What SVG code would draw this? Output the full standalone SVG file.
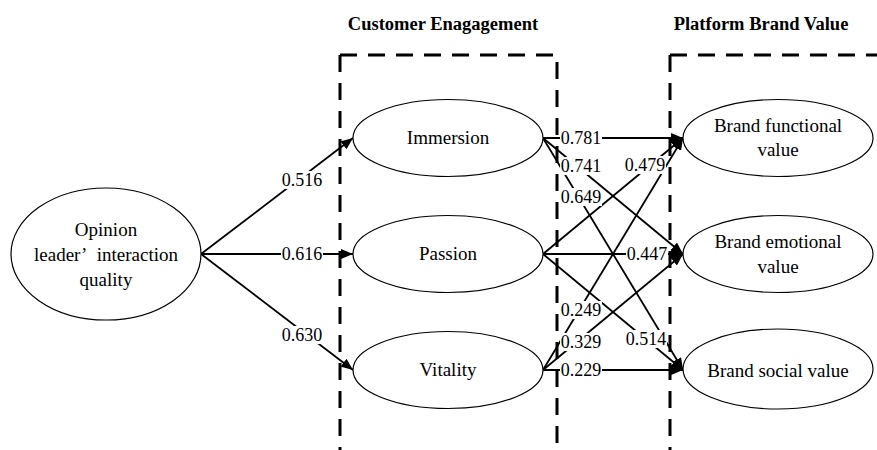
<svg xmlns="http://www.w3.org/2000/svg" width="877" height="450" viewBox="0 0 877 450">
<style>
  .bg{fill:#fff}
  .node ellipse{fill:#fff;stroke:#000;stroke-width:1.2}
  .node text{font-family:"Liberation Serif","Times New Roman",serif;font-size:19px;fill:#000;text-anchor:middle}
  .hdr{font-family:"Liberation Serif","Times New Roman",serif;font-size:18.5px;font-weight:bold;fill:#000;text-anchor:middle}
  .box{fill:none;stroke:#000;stroke-width:3;stroke-dasharray:17 11}
  .edge{stroke:#000;stroke-width:1.8;fill:none;marker-end:url(#arr)}
  .lblbg{fill:#fff}
  .lbl{font-family:"Liberation Serif","Times New Roman",serif;font-size:18px;fill:#000;text-anchor:middle}
</style>
<defs>
  <marker id="arr" markerUnits="userSpaceOnUse" markerWidth="12" markerHeight="10" refX="12" refY="5" orient="auto">
    <path d="M0,0 L12,5 L0,10 z" fill="#000"/>
  </marker>
</defs>
<rect class="bg" x="0" y="0" width="877" height="450"/>

<text class="hdr" x="443" y="30">Customer Enagagement</text>
<text class="hdr" x="761" y="30">Platform Brand Value</text>

<g id="connectors">
  <line class="edge" x1="201" y1="254" x2="353" y2="138"/>
  <line class="edge" x1="201" y1="254" x2="353" y2="254"/>
  <line class="edge" x1="201" y1="254" x2="353" y2="370"/>
  <line class="edge" x1="543" y1="138" x2="683" y2="138"/>
  <line class="edge" x1="543" y1="138" x2="683" y2="254"/>
  <line class="edge" x1="543" y1="138" x2="683" y2="370"/>
  <line class="edge" x1="543" y1="254" x2="683" y2="138"/>
  <line class="edge" x1="543" y1="254" x2="683" y2="254"/>
  <line class="edge" x1="543" y1="254" x2="683" y2="370"/>
  <line class="edge" x1="543" y1="370" x2="683" y2="138"/>
  <line class="edge" x1="543" y1="370" x2="683" y2="254"/>
  <line class="edge" x1="543" y1="370" x2="683" y2="370"/>
  <g id="edge-labels">
    <rect class="lblbg" x="281" y="171" width="42" height="18"/><text class="lbl" x="302" y="186">0.516</text>
    <rect class="lblbg" x="281" y="245" width="42" height="18"/><text class="lbl" x="302" y="260">0.616</text>
    <rect class="lblbg" x="281" y="326" width="42" height="18"/><text class="lbl" x="302" y="341">0.630</text>
    <rect class="lblbg" x="560" y="129" width="42" height="18"/><text class="lbl" x="581" y="144">0.781</text>
    <rect class="lblbg" x="560" y="157" width="42" height="18"/><text class="lbl" x="581" y="172">0.741</text>
    <rect class="lblbg" x="560" y="188" width="42" height="18"/><text class="lbl" x="581" y="203">0.649</text>
    <rect class="lblbg" x="624" y="156" width="42" height="18"/><text class="lbl" x="645" y="171">0.479</text>
    <rect class="lblbg" x="626" y="245" width="42" height="18"/><text class="lbl" x="647" y="260">0.447</text>
    <rect class="lblbg" x="625" y="330" width="42" height="18"/><text class="lbl" x="646" y="345">0.514</text>
    <rect class="lblbg" x="560" y="301" width="42" height="18"/><text class="lbl" x="581" y="316">0.249</text>
    <rect class="lblbg" x="560" y="333" width="42" height="18"/><text class="lbl" x="581" y="348">0.329</text>
    <rect class="lblbg" x="560" y="361" width="42" height="18"/><text class="lbl" x="581" y="376">0.229</text>
  </g>
</g>

<g id="box-customer-engagement">
  <path class="box" d="M340,55 H557 V450"/>
  <path class="box" d="M340,55 V450"/>
</g>
<g id="box-platform-brand-value">
  <path class="box" d="M670,55 H877"/>
  <path class="box" d="M670,55 V450"/>
</g>

<g id="node-opinion" class="node">
  <ellipse cx="106" cy="254" rx="95" ry="66"/>
  <text x="106" y="236">Opinion</text>
  <text x="106" y="261">leader’ <tspan dx="6">interaction</tspan></text>
  <text x="106" y="286">quality</text>
</g>
<g id="node-immersion" class="node">
  <ellipse cx="448" cy="138" rx="95" ry="38.5"/>
  <text x="448" y="144">Immersion</text>
</g>
<g id="node-passion" class="node">
  <ellipse cx="448" cy="254" rx="95" ry="38.5"/>
  <text x="448" y="260">Passion</text>
</g>
<g id="node-vitality" class="node">
  <ellipse cx="448" cy="370" rx="95" ry="38.5"/>
  <text x="448" y="376">Vitality</text>
</g>
<g id="node-functional" class="node">
  <ellipse cx="778" cy="138" rx="95" ry="38.5"/>
  <text x="778" y="132">Brand functional</text>
  <text x="778" y="156">value</text>
</g>
<g id="node-emotional" class="node">
  <ellipse cx="778" cy="254" rx="95" ry="38.5"/>
  <text x="778" y="248">Brand emotional</text>
  <text x="778" y="273">value</text>
</g>
<g id="node-social" class="node">
  <ellipse cx="778" cy="369" rx="95" ry="40"/>
  <text x="778" y="377">Brand social value</text>
</g>
</svg>
